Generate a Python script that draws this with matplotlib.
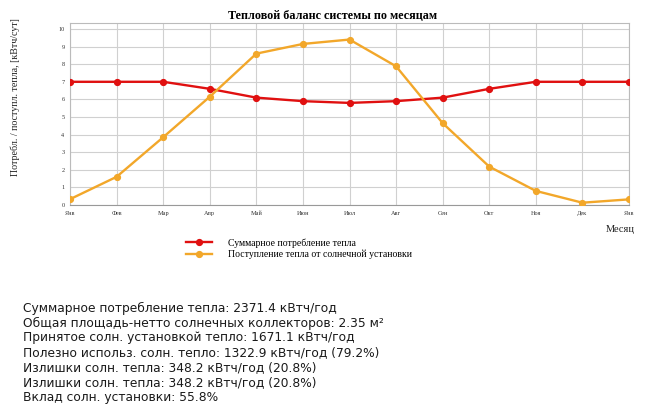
import matplotlib
matplotlib.use("Agg")
import matplotlib.pyplot as plt
import numpy as np

months = ["Янв", "Фев", "Мар", "Апр", "Май", "Июн", "Июл", "Авг", "Сен", "Окт", "Ноя", "Дек", "Янв"]
consumption = [7.0, 7.0, 7.0, 6.6, 6.1, 5.9, 5.8, 5.9, 6.1, 6.6, 7.0, 7.0, 7.0]
solar = [0.33, 1.6, 3.85, 6.15, 8.6, 9.15, 9.4, 7.88, 4.65, 2.18, 0.8, 0.13, 0.32]
yticks = list(range(0, 11))

title = "Тепловой баланс системы по месяцам"
ylabel = "Потребл. / поступл. тепла, [кВтч/сут]"
xlabel = "Месяц"
label_cons = "Суммарное потребление тепла"
label_solar = "Поступление тепла от солнечной установки"
summary = [
    "Суммарное потребление тепла: 2371.4 кВтч/год",
    "Общая площадь-нетто солнечных коллекторов: 2.35 м²",
    "Принятое солн. установкой тепло: 1671.1 кВтч/год",
    "Полезно использ. солн. тепло: 1322.9 кВтч/год (79.2%)",
    "Излишки солн. тепла: 348.2 кВтч/год (20.8%)",
    "Излишки солн. тепла: 348.2 кВтч/год (20.8%)",
    "Вклад солн. установки: 55.8%",
]

W, H = 650, 418
fig = plt.figure(figsize=(W / 100, H / 100), dpi=100)
fig.patch.set_facecolor("white")

def fx(px):
    return px / W

def fy(py):
    return 1 - py / H

ax = fig.add_axes([fx(70), fy(205), fx(629) - fx(70), fy(23) - fy(205)])
x = np.arange(len(months))
red = "#e01010"
orange = "#f2a72a"
ax.plot(x, consumption, color=red, lw=1.7, marker="o", ms=4.2, label=label_cons, zorder=3)
ax.plot(x, solar, color=orange, lw=1.7, marker="o", ms=4.2, label=label_solar, zorder=3)

ax.set_xlim(0, len(months) - 1)
ax.set_ylim(0, 10.34)
ax.set_xticks(x)
ax.set_xticklabels(months, fontsize=4.5, family="Liberation Serif", color="#333333")
ax.set_yticks(yticks)
ax.set_yticklabels([str(v) for v in yticks], fontsize=4.5, family="Liberation Serif", color="#333333")
ax.tick_params(length=0, pad=4)
ax.grid(True, color="#d0d0d0", lw=0.8)
ax.set_axisbelow(True)
for s in ax.spines.values():
    s.set_color("#bbbbbb")
    s.set_linewidth(0.8)
ax.spines["bottom"].set_color("#999999")

fig.text(fx(333), fy(16), title, ha="center", va="center", fontsize=8.7,
         fontweight="bold", family="Liberation Serif")
fig.text(fx(15), fy(176), ylabel, rotation=90, ha="center", va="bottom",
         fontsize=7.2, family="Liberation Serif", color="#222222")
fig.text(fx(620), fy(229), xlabel, ha="center", va="center", fontsize=7.5,
         family="Liberation Serif", color="#222222")

handles, labels = ax.get_legend_handles_labels()
fig.legend(handles, labels, loc="upper left", bbox_to_anchor=(fx(186), fy(238)),
           frameon=False, borderpad=0, borderaxespad=0, handlelength=2.7,
           handletextpad=1.6, labelspacing=0.25,
           prop={"family": "Liberation Serif", "size": 7})

for i, line in enumerate(summary):
    fig.text(fx(23), fy(308 + 15 * i), line, ha="left", va="center",
             fontsize=8.8, family="DejaVu Sans", color="#1a1a1a")

fig.savefig("out.png", dpi=100, facecolor="white")
